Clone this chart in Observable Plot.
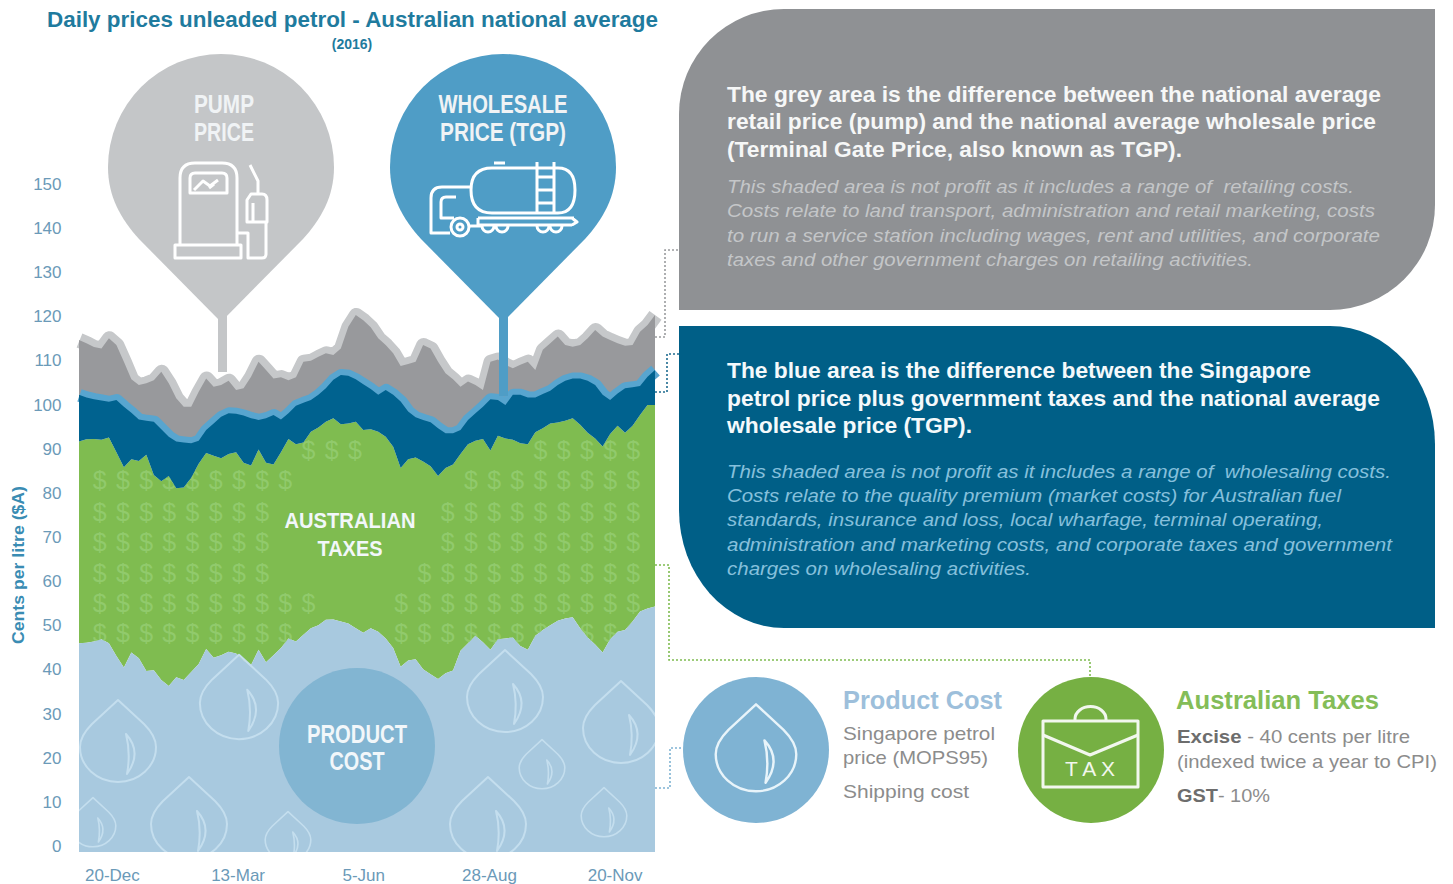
<!DOCTYPE html>
<html>
<head>
<meta charset="utf-8">
<script src="https://cdn.jsdelivr.net/npm/d3@7"></script>
<script src="https://cdn.jsdelivr.net/npm/@observablehq/plot@0.6"></script>
<style>
  html, body { margin: 0; padding: 0; background: #fff; }
  #chart { width: 1453px; height: 884px; overflow: hidden; }
  svg { display: block; }
</style>
</head>
<body>
<div id="chart"></div>
<script>
// Series: cents per litre, one sample every five days
const pumpPrice = [116.0,115.3,114.4,114.1,116.4,114.9,111.1,107.1,105.8,106.2,106.9,108.8,106.2,102.8,100.9,100.9,104.3,107.3,105.4,105.8,106.8,104.7,105.1,107.7,111.1,109.2,107.3,107.6,106.9,107.6,111.1,111.3,112.2,113.0,112.6,114.1,119.0,121.7,120.5,118.9,116.4,114.9,113.0,110.1,110.6,111.1,114.9,114.1,111.1,108.5,107.1,105.4,106.6,105.8,104.7,111.1,111.6,110.4,109.6,110.4,111.1,109.2,113.8,115.3,116.8,114.9,114.5,114.9,116.4,118.3,116.8,116.0,115.3,114.7,114.9,117.9,119.4,121.7];
const wholesalePrice = [103.6,103.0,102.6,102.3,102.0,102.4,100.9,99.5,98.0,97.7,97.5,95.8,94.1,93.0,92.8,92.6,93.2,95.6,97.1,98.6,99.4,99.3,98.9,98.3,97.9,98.3,99.0,98.0,99.4,101.1,101.8,102.4,103.6,105.1,107.0,108.1,107.9,107.1,106.0,104.9,103.6,104.7,103.6,102.1,99.8,98.5,97.9,97.4,96.0,94.9,94.9,95.6,97.9,99.4,100.9,102.6,102.4,101.3,103.6,103.6,103.0,103.0,103.8,104.5,105.8,106.8,107.3,107.3,106.8,105.8,103.6,102.4,103.9,105.1,105.3,105.6,107.7,109.2];
const productPlusTaxes = [93.0,93.5,93.6,93.4,93.9,90.6,87.2,89.0,88.6,90.0,85.4,84.0,85.2,82.4,82.6,84.8,88.0,90.4,89.8,89.2,90.2,90.6,88.2,87.6,91.2,88.2,87.8,90.6,93.6,92.4,92.8,95.2,96.2,97.5,98.3,96.9,97.1,97.5,95.6,95.8,95.2,94.1,91.8,87.0,89.0,89.4,88.5,87.4,85.2,87.0,87.8,90.2,92.4,93.2,93.6,91.0,94.3,93.7,93.4,92.6,92.4,95.1,96.0,97.1,97.3,97.7,98.3,96.8,95.0,93.7,91.9,94.7,96.6,95.0,96.6,99.0,101.3,101.3];
const productCost = [47.3,47.4,47.7,48.2,47.3,44.4,41.8,45.2,43.9,41.0,41.2,39.0,37.6,39.6,39.0,40.8,42.6,46.0,44.0,44.6,45.4,45.0,43.4,42.4,45.8,43.0,44.6,46.2,48.4,47.7,49.2,50.7,51.4,52.6,52.7,52.2,51.8,50.7,49.7,50.7,49.9,48.4,46.2,42.0,43.4,43.7,41.4,40.3,39.2,40.5,41.1,45.6,47.3,49.0,47.5,45.8,48.2,48.4,48.6,46.7,45.8,49.0,50.3,51.4,52.4,52.9,53.2,50.7,48.6,47.0,45.2,48.2,49.9,50.3,52.2,54.5,55.2,55.6];

const sampleDates = d3.utcDay.range(new Date("2015-11-26"), new Date("2016-12-16"), 5);
const tickDates = ["2015-12-20","2016-03-13","2016-06-05","2016-08-28","2016-11-20"].map(d => new Date(d));
const yTicks = [0,10,20,30,40,50,60,70,80,90,100,110,120,130,140,150];

const prices = sampleDates.map((date, i) => ({
  date, pump: pumpPrice[i], tgp: wholesalePrice[i], tax: productPlusTaxes[i], product: productCost[i]
}));

// Text
const chartTitle = "Daily prices unleaded petrol - Australian national average";
const chartSubtitle = "(2016)";
const yLabel = "Cents per litre ($A)";
const greyHead = ["The grey area is the difference between the national average","retail price (pump) and the national average wholesale price","(Terminal Gate Price, also known as TGP)."];
const greyBody = ["This shaded area is not profit as it includes a range of  retailing costs.","Costs relate to land transport, administration and retail marketing, costs","to run a service station including wages, rent and utilities, and corporate","taxes and other government charges on retailing activities."];
const blueHead = ["The blue area is the difference between the Singapore","petrol price plus government taxes and the national average","wholesale price (TGP)."];
const blueBody = ["This shaded area is not profit as it includes a range of  wholesaling costs.","Costs relate to the quality premium (market costs) for Australian fuel","standards, insurance and loss, local wharfage, terminal operating,","administration and marketing costs, and corporate taxes and government","charges on wholesaling activities."];

const C = {
  haloGrey:"#c6c8ca", grey:"#98999c", haloBlue:"#58a5cf", blue:"#00628f", green:"#7fbc50",
  dollar:"#91ca6c", sky:"#a8c9df", drop:"#c4deee", skyDark:"#82b5d2", pinGrey:"#c4c6c8", pinBlue:"#4f9dc6",
  panelGrey:"#8f9194", panelBlue:"#005f87", teal:"#1f7b9e", tick:"#6b9ab8"
};
const FONT = "'Liberation Sans', Arial, sans-serif";

function txt(g, s, x, y, o = {}) {
  const t = g.append("text").attr("x", x).attr("y", y).text(s)
    .attr("font-family", o.family || FONT).attr("font-size", o.size || 16)
    .attr("font-weight", o.weight || "normal").attr("font-style", o.style || "normal")
    .attr("fill", o.fill || "#fff").attr("text-anchor", o.anchor || "start")
    .attr("dominant-baseline", "central");
  if (o.len) t.attr("textLength", o.len).attr("lengthAdjust", "spacingAndGlyphs");
  if (o.spacing) t.attr("letter-spacing", o.spacing);
  if (o.transform) t.attr("transform", o.transform);
  return t;
}
const DROP = "M0,-44 L26,-20 C33,-13 38,-5 38,3 A38,35 0 1 1 -38,3 C-38,-5 -33,-13 -26,-20 Z";
const CRESCENT = "M8,-10 C19,2 19,16 9,30 C12,14 11,2 8,-10 Z";
const PIN = "M-113,0 A113,113 0 1 1 113,0 C113,30 100,52 82,72 L0,155 L-82,72 C-100,52 -113,30 -113,0 Z";
function drop(g, cx, cy, s, color, w) {
  const d = g.append("g").attr("transform", `translate(${cx},${cy}) scale(${s})`)
    .attr("fill", "none").attr("stroke", color).attr("stroke-width", w / s).attr("stroke-linejoin", "round");
  d.append("path").attr("d", DROP);
  d.append("path").attr("d", CRESCENT);
}

// Dollar-sign texture on the tax band
function dollarTexture() {
  const g = d3.create("svg:g").attr("font-family", FONT).attr("font-size", 25).attr("fill", C.dollar)
    .attr("text-anchor", "middle").attr("dominant-baseline", "central");
  const hide = {480:[300,452],512:[275,430],542:[275,430],573:[275,405],603:[320,390],633:[300,390]};
  [450,480,512,542,573,603,633].forEach(y => {
    for (let k = 1; k < 25; k++) {
      const x = 76.5 + 23.2 * k;
      if (y === 450) { if (!((x > 300 && x < 360) || x > 530)) continue; }
      else if (x > hide[y][0] && x < hide[y][1]) continue;
      g.append("text").attr("x", x).attr("y", y).text("$");
    }
  });
  return g.node();
}

// Drops, product badge, band labels
function chartDecor() {
  const g = d3.create("svg:g");
  g.append("clipPath").attr("id", "plotClip").append("rect").attr("x", 79).attr("y", 0).attr("width", 576).attr("height", 852);
  const d = g.append("g").attr("clip-path", "url(#plotClip)");
  [[118,744,1],[239,700,1.03],[189,821,1],[505,694,1],[621,725,1],[488,821,1]].forEach(a => drop(d, a[0], a[1], a[2], C.drop, 2));
  [[93,824,.6],[288,838,.6],[542,766,.6],[604,814,.6]].forEach(a => drop(d, a[0], a[1], a[2], C.drop, 1.6));
  g.append("circle").attr("cx", 357).attr("cy", 746).attr("r", 78).attr("fill", C.skyDark);
  const label = {weight:"bold", size:25, anchor:"middle", fill:"#f2f7fa"};
  txt(g, "PRODUCT", 357, 734, {...label, len:100}); txt(g, "COST", 357, 761, {...label, len:55});
  txt(g, "AUSTRALIAN", 350, 520, {...label, size:22, len:131}); txt(g, "TAXES", 350, 548, {...label, size:22, len:65});
  return g.node();
}

// Pins with icons
function pins() {
  const g = d3.create("svg:g");
  [[221,C.pinGrey,218,227,372],[503,C.pinBlue,499,508,396]].forEach(p => {
    g.append("path").attr("d", PIN).attr("transform", `translate(${p[0]},167)`).attr("fill", p[1]);
    g.append("rect").attr("x", p[2]).attr("y", 310).attr("width", p[3]-p[2]).attr("height", p[4]-310).attr("fill", p[1]);
  });
  const label = {weight:"bold", size:25, anchor:"middle", fill:"#f0f3f5"};
  txt(g, "PUMP", 224, 104, {...label, len:60}); txt(g, "PRICE", 224, 132, {...label, len:60});
  txt(g, "WHOLESALE", 503, 104, {...label, len:129}); txt(g, "PRICE (TGP)", 503, 132, {...label, len:126});
  const ic = g.append("g").attr("fill", "none").attr("stroke", "#fff").attr("stroke-width", 3).attr("stroke-linejoin", "round");
  // petrol pump
  ic.append("path").attr("d", "M180,245 V178 Q180,163 195,163 H222 Q237,163 237,178 V245");
  ic.append("rect").attr("x", 175).attr("y", 245).attr("width", 66).attr("height", 13);
  ic.append("path").attr("d", "M190,193 V178 Q190,173 195,173 H222 Q227,173 227,178 V193 Z");
  ic.append("path").attr("d", "M194,190 L203,181 L210,186 L218,180 M209,188 L214,184");
  ic.append("path").attr("d", "M250,165 L258,181 V194 M247,222 V200 L251,194 H262 Q267,194 267,200 V222 Z");
  ic.append("path").attr("d", "M253,222 V203 M238,233 H248 V258 H262 Q266,258 266,254 V222");
  // tanker
  ic.append("path").attr("d", "M492,168 H558 Q575,168 575,190 Q575,213 558,213 H492 Q471,213 471,190 Q471,168 492,168 Z");
  ic.append("path").attr("d", "M494,163 H505 M537,162 V212 M554,162 V212 M537,177 H554 M537,190 H554 M537,203 H554");
  ic.append("path").attr("d", "M478,218 H574 M478,225 H572 M478,218 V225 M572,218 L577,222 L572,225");
  ic.append("path").attr("d", "M471,187 H442 Q431,187 431,198 V233 H450 M456,197 H446 Q441,197 441,202 V218 H454");
  ic.append("circle").attr("cx", 460).attr("cy", 227).attr("r", 9);
  ic.append("circle").attr("cx", 460).attr("cy", 227).attr("r", 3);
  [488,502,543,556].forEach(x => ic.append("path").attr("d", `M${x-6},226 A6,6 0 0 0 ${x+6},226`));
  ic.append("path").attr("d", "M469,226 H482");
  return g.node();
}

// Titles, explanatory panels, legend circles
function furniture() {
  const g = d3.create("svg:g");
  txt(g, chartTitle, 47, 20, {weight:"bold", size:21.5, fill:C.teal, len:611});
  txt(g, chartSubtitle, 352, 44, {weight:"bold", size:14, fill:C.teal, anchor:"middle"});
  txt(g, yLabel, 0, 0, {weight:"bold", size:16, fill:"#3a8cb3", anchor:"middle", len:158, transform:"translate(18,565) rotate(-90)"});
  // panels
  g.append("path").attr("fill", C.panelGrey).attr("d", "M679,310 V114 A105,105 0 0 1 784,9 H1435 V205 A105,105 0 0 1 1330,310 Z");
  g.append("path").attr("fill", C.panelBlue).attr("d", "M679,326 H1330 A105,118 0 0 1 1435,444 V628 H784 A105,118 0 0 1 679,510 Z");
  [[greyHead[0],95,654],[greyHead[1],122,649],[greyHead[2],150,455]].forEach(l => txt(g, l[0], 727, l[1], {weight:"bold", size:21.5, fill:"#f6f7f7", len:l[2]}));
  [[greyBody[0],186,627],[greyBody[1],210,648],[greyBody[2],235,653],[greyBody[3],259,526]].forEach(l => txt(g, l[0], 727, l[1], {style:"italic", size:19, fill:"#c4c6c8", len:l[2]}));
  [[blueHead[0],371,584],[blueHead[1],399,653],[blueHead[2],426,245]].forEach(l => txt(g, l[0], 727, l[1], {weight:"bold", size:21.5, fill:"#f4f9fb", len:l[2]}));
  [[blueBody[0],471,664],[blueBody[1],495,614],[blueBody[2],519,596],[blueBody[3],544,665],[blueBody[4],568,304]].forEach(l => txt(g, l[0], 727, l[1], {style:"italic", size:19, fill:"#86c0dc", len:l[2]}));
  // dotted connectors
  [["M655,337 H665 V250 H679","#9a9c9e"],["M655,392 H667 V354 H679","#1f6c90"],["M655,565 H669 V660 H1090 V677","#7fbc50"],["M655,788 H670 V748 H683","#7fb3d3"]]
    .forEach(c => g.append("path").attr("d", c[0]).attr("fill", "none").attr("stroke", c[1]).attr("stroke-width", 1.6).attr("stroke-dasharray", "2 2"));
  // product cost
  g.append("circle").attr("cx", 756).attr("cy", 750).attr("r", 73).attr("fill", "#7fb3d3");
  drop(g, 756, 751, 1.06, "#e8f4fa", 2.4);
  txt(g, "Product Cost", 843, 700, {weight:"bold", size:25, fill:"#9dbfdb", len:159});
  txt(g, "Singapore petrol", 843, 733, {size:19, fill:"#8c8c8c", len:152});
  txt(g, "price (MOPS95)", 843, 757, {size:19, fill:"#8c8c8c", len:145});
  txt(g, "Shipping cost", 843, 791, {size:19, fill:"#8c8c8c", len:126});
  // taxes
  g.append("circle").attr("cx", 1091).attr("cy", 750).attr("r", 73).attr("fill", "#76b043");
  const tx = g.append("g").attr("fill", "none").attr("stroke", "#f2f7ee").attr("stroke-width", 3).attr("stroke-linejoin", "round");
  tx.append("rect").attr("x", 1043).attr("y", 721).attr("width", 95).attr("height", 66);
  tx.append("path").attr("d", "M1075,721 V719 A15,12 0 0 1 1106,719 V721 M1043,735 L1090,755 L1138,735");
  txt(g, "T A X", 1090, 768, {size:21, fill:"#f2f7ee", anchor:"middle"});
  txt(g, "Australian Taxes", 1176, 700, {weight:"bold", size:25, fill:"#84bd58", len:203});
  const dark = "#6d6d6d", mid = "#8c8c8c";
  const ex = txt(g, "", 1177, 736, {size:19, fill:mid, len:233});
  ex.append("tspan").attr("font-weight", "bold").attr("fill", dark).text("Excise");
  ex.append("tspan").text(" - 40 cents per litre");
  txt(g, "(indexed twice a year to CPI)", 1177, 761, {size:19, fill:mid, len:260});
  const gst = txt(g, "", 1177, 795, {size:19, fill:mid, len:93});
  gst.append("tspan").attr("font-weight", "bold").attr("fill", dark).text("GST");
  gst.append("tspan").text("- 10%");
  return g.node();
}

const chart = Plot.plot({
  width: 1453, height: 884,
  marginLeft: 79, marginRight: 798, marginTop: 190, marginBottom: 32,
  style: {background: "#fff", fontFamily: FONT},
  x: {type: "utc", domain: [sampleDates[0], sampleDates[sampleDates.length - 1]]},
  y: {domain: [0, 150]},
  marks: [
    Plot.lineY(prices, {x: "date", y: "pump", stroke: C.haloGrey, strokeWidth: 15, strokeLinejoin: "round", strokeLinecap: "butt"}),
    Plot.areaY(prices, {x: "date", y1: "tgp", y2: "pump", fill: C.grey}),
    Plot.lineY(prices, {x: "date", y: "tgp", stroke: C.haloBlue, strokeWidth: 13, strokeLinejoin: "round", strokeLinecap: "butt"}),
    Plot.areaY(prices, {x: "date", y1: "product", y2: "tax", fill: C.green}),
    dollarTexture,
    Plot.areaY(prices, {x: "date", y1: "tax", y2: "tgp", fill: C.blue}),
    Plot.areaY(prices, {x: "date", y: "product", fill: C.sky}),
    chartDecor,
    Plot.axisY(yTicks, {tickSize: 0, tickPadding: 18, dy: -6, label: null, fontSize: 17, fill: C.tick}),
    Plot.axisX(tickDates, {tickSize: 0, tickPadding: 16, label: null, fontSize: 17, fill: C.tick, dx: -3, tickFormat: d3.utcFormat("%-d-%b")}),
    pins,
    furniture
  ]
});
document.getElementById("chart").appendChild(chart);
</script>
</body>
</html>
